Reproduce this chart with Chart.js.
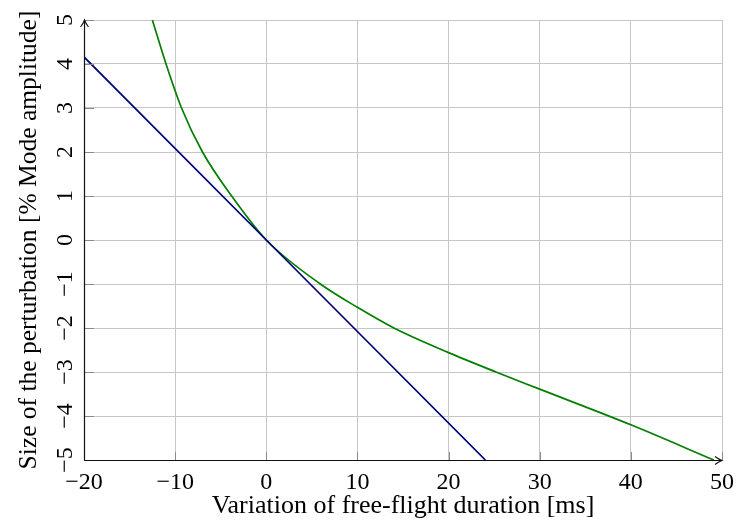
<!DOCTYPE html>
<html>
<head>
<meta charset="utf-8">
<script src="https://cdn.jsdelivr.net/npm/chart.js@4.4.1/dist/chart.umd.min.js"></script>
<style>
  html, body { margin: 0; padding: 0; background: #fff; }
  #wrap { width: 736px; height: 528px; }
</style>
</head>
<body>
<div id="wrap"><canvas id="chart"></canvas></div>
<script>
// linear estimate: perturbation vs. free-flight duration
var linearX = [-20, 0, 24.04];
var linearY = [4.16, 0, -5];

// full response curve
var curveX = [-12.5, -11.0, -9.3, -7.0, -3.8, 0, 5.93, 10, 14.0, 20, 25.2, 30, 40, 49.1];
var curveY = [5, 4, 3, 2, 1, 0, -1, -1.53, -2, -2.56, -3, -3.39, -4.2, -5];

var xTicks = [-20, -10, 0, 10, 20, 30, 40, 50];
var yTicks = [-5, -4, -3, -2, -1, 0, 1, 2, 3, 4, 5];

function toPoints(xs, ys) {
  return xs.map(function (x, i) { return { x: x, y: ys[i] }; });
}

function minusLabel(v) {
  return String(v).replace('-', '\u2212');
}

var family = '"Liberation Serif", "DejaVu Serif", serif';
var tickFont = { family: family, size: 24 };
var xTitleFont = { family: family, size: 26 };
var yTitleFont = { family: family, size: 25.5 };

// axis lines with arrow heads plus short tick marks, pgfplots style
var axisPlugin = {
  id: 'axisArrows',
  afterDatasetsDraw: function (chart) {
    var ctx = chart.ctx;
    var a = chart.chartArea;
    var xs = chart.scales.x, ys = chart.scales.y;
    ctx.save();

    ctx.strokeStyle = '#8a8a8a';
    ctx.lineWidth = 1;
    xTicks.forEach(function (t) {
      var px = Math.round(xs.getPixelForValue(t)) + 0.5;
      ctx.beginPath();
      ctx.moveTo(px, a.bottom);
      ctx.lineTo(px, a.bottom - 8);
      ctx.stroke();
    });
    yTicks.forEach(function (t) {
      var py = Math.round(ys.getPixelForValue(t)) + 0.5;
      ctx.beginPath();
      ctx.moveTo(a.left, py);
      ctx.lineTo(a.left + 10, py);
      ctx.stroke();
    });

    ctx.strokeStyle = '#111';
    ctx.lineWidth = 1.2;
    var x0 = Math.round(a.left) + 0.5;
    var y0 = Math.round(a.bottom) + 0.5;
    ctx.beginPath();
    ctx.moveTo(x0, y0);
    ctx.lineTo(x0, a.top);
    ctx.moveTo(x0, y0);
    ctx.lineTo(a.right, y0);
    ctx.stroke();

    // arrow heads
    ctx.lineWidth = 1.1;
    ctx.beginPath();
    ctx.moveTo(x0 - 4, a.top + 7);
    ctx.quadraticCurveTo(x0 - 1, a.top + 3, x0, a.top);
    ctx.quadraticCurveTo(x0 + 1, a.top + 3, x0 + 4, a.top + 7);
    ctx.moveTo(a.right - 7, y0 - 4);
    ctx.quadraticCurveTo(a.right - 3, y0 - 1, a.right, y0);
    ctx.quadraticCurveTo(a.right - 3, y0 + 1, a.right - 7, y0 + 4);
    ctx.stroke();
    ctx.restore();
  }
};

var ctx = document.getElementById('chart').getContext('2d');
new Chart(ctx, {
  type: 'line',
  data: {
    datasets: [{
      data: toPoints(linearX, linearY),
      borderColor: '#00007f',
      borderWidth: 1.7,
      pointRadius: 0,
      tension: 0
    }, {
      data: toPoints(curveX, curveY),
      borderColor: '#007f00',
      borderWidth: 1.7,
      pointRadius: 0,
      cubicInterpolationMode: 'monotone'
    }]
  },
  plugins: [axisPlugin],
  options: {
    responsive: true,
    maintainAspectRatio: false,
    animation: false,
    layout: { padding: { left: 0, right: 14, top: 20, bottom: 0 } },
    plugins: { legend: { display: false }, tooltip: { enabled: false } },
    scales: {
      x: {
        type: 'linear',
        min: -20,
        max: 50,
        afterFit: function (s) { s.height = 68; s.paddingLeft = 0; s.paddingRight = 0; },
        afterBuildTicks: function (s) { s.ticks = xTicks.map(function (v) { return { value: v }; }); },
        grid: { color: '#c6c6c6', lineWidth: 1, drawTicks: false },
        border: { display: false },
        ticks: {
          color: '#000',
          font: tickFont,
          padding: 8,
          maxRotation: 0,
          callback: minusLabel
        },
        title: {
          display: true,
          text: 'Variation of free-flight duration [ms]',
          color: '#000',
          font: xTitleFont,
          padding: { top: 0, bottom: 6 }
        }
      },
      y: {
        type: 'linear',
        min: -5,
        max: 5,
        afterFit: function (s) { s.width = 84; s.paddingTop = 0; s.paddingBottom = 0; },
        afterBuildTicks: function (s) { s.ticks = yTicks.map(function (v) { return { value: v }; }); },
        grid: { color: '#c6c6c6', lineWidth: 1, drawTicks: false },
        border: { display: false },
        ticks: {
          color: '#000',
          font: tickFont,
          padding: 6,
          minRotation: 90,
          maxRotation: 90,
          crossAlign: 'center',
          callback: minusLabel
        },
        title: {
          display: true,
          text: 'Size of the perturbation [% Mode amplitude]',
          color: '#000',
          font: yTitleFont,
          padding: { top: 14, bottom: 0 }
        }
      }
    }
  }
});
</script>
</body>
</html>
